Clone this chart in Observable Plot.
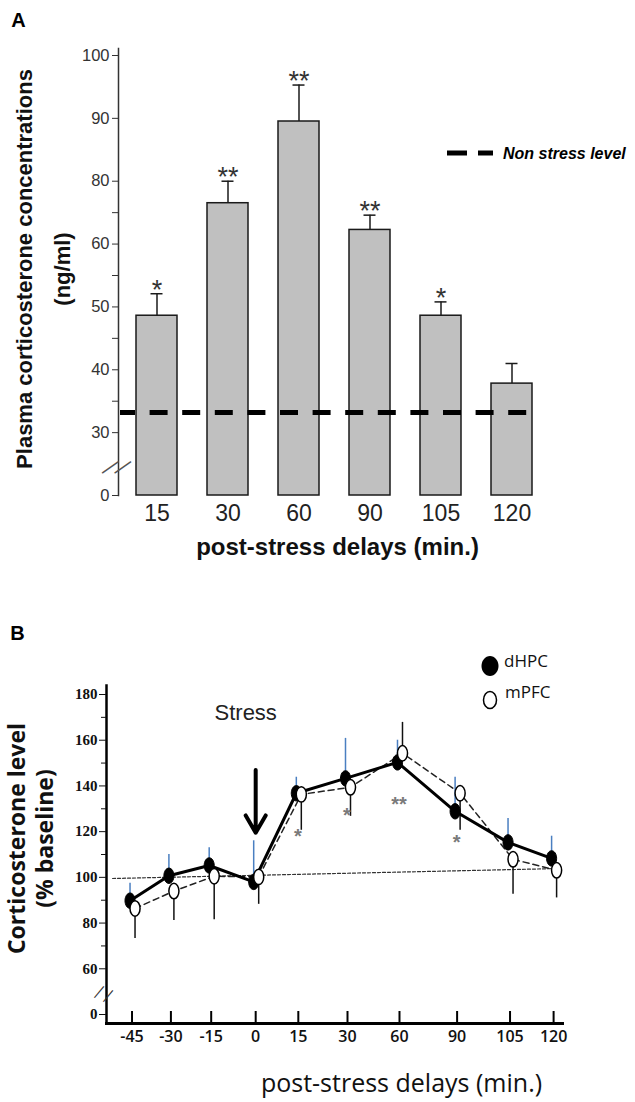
<!DOCTYPE html>
<html>
<head>
<meta charset="utf-8">
<script src="https://cdn.jsdelivr.net/npm/d3@7"></script>
<script src="https://cdn.jsdelivr.net/npm/@observablehq/plot@0.6"></script>
<style>
  body { margin: 0; background: #fff; }
  svg { display: block; }
</style>
</head>
<body>
<script>
// ---------- Panel A data ----------
const delaysA = ["15", "30", "60", "90", "105", "120"];
const plasmaMean = [48.6, 73.0, 89.5, 64.5, 48.6, 37.8];
const plasmaErrTop = [52.1, 80.0, 95.3, 69.2, 50.8, 41.0];
const plasmaSig = ["*", "**", "**", "**", "*", ""];
const nonStressLevel = 33.2;
const yTicksA = [0, 30, 40, 50, 60, 80, 90, 100];
const yMinorA = [35, 45, 55, 70];
const breakA = [14];

// ---------- Panel B data ----------
const delaysB = ["-45", "-30", "-15", "0", "15", "30", "60", "90", "105", "120"];
const dHPC = [89.8, 100.7, 105.2, 98.0, 136.8, 143.3, 150.3, 128.9, 115.3, 108.3];
const dHPCErrTop = [97.4, 110.0, 113.0, 116.0, 143.8, 160.8, 160.0, 143.8, 125.8, 118.0];
const mPFC = [86.4, 94.0, 100.5, 100.2, 136.3, 139.4, 154.3, 136.8, 107.9, 103.1];
const mPFCErrEnd = [73.3, 81.1, 81.4, 88.2, 120.6, 126.7, 167.8, 120.6, 92.6, 91.0];
const sigDelayB = ["15", "30", "60", "90"];
const sigLevelB = [117.4, 127.0, 131.8, 114.9];
const sigTextB = ["*", "*", "**", "*"];
const sigShiftB = [0, -1, -8, -7];
const baselineIdx = [-0.5, 9.2];
const baselineLevel = [99.5, 103.9];
const arrowDelay = "0";
const arrowLevels = [147, 119.5];
const stressLevel = 172;
const yTicksB = [0, 60, 80, 100, 120, 140, 160, 180];
const yMinorB = [70, 90, 110, 130, 150, 170];
const breakB = [30];

// broken axis: labelled ticks are evenly spaced, linear between them
const brokenAxis = (ticks) => {
  const s = d3.scaleLinear().domain(ticks).range(ticks.map((d, i) => i));
  return (v) => s(v);
};
const fA = brokenAxis(yTicksA);
const fB = brokenAxis(yTicksB);

// hand-drawn (uneven) spacing of the delay categories along panel B's x axis
const xSpacingB = d3.scaleLinear()
  .domain(delaysB.map((d, i) => i))
  .range([0, 0.83, 1.69, 2.64, 3.55, 4.6, 5.71, 6.94, 8.07, 9]);

// ---------- Panel A ----------
const dataA = delaysA.map((d, i) => ({delay: d, mean: plasmaMean[i], err: plasmaErrTop[i], sig: plasmaSig[i]}));
const sansA = "'Liberation Sans', Arial, sans-serif";

const plotA = Plot.plot({
  width: 635,
  height: 600,
  marginLeft: 118,
  marginRight: 85,
  marginTop: 48,
  marginBottom: 105,
  style: {fontFamily: sansA, background: "white", overflow: "visible"},
  x: {type: "band", domain: delaysA, paddingInner: 0.424, paddingOuter: 0.246, label: null},
  y: {type: "linear", transform: fA, domain: [0, yTicksA.length - 1], insetTop: 7, label: null},
  marks: [
    Plot.barY(dataA, {x: "delay", y: "mean", fill: "#c0c0c0", stroke: "#1a1a1a", strokeWidth: 1.5}),
    Plot.ruleX(dataA, {x: "delay", y1: "mean", y2: "err", stroke: "#1a1a1a", strokeWidth: 1.5}),
    Plot.tickY(dataA, {x: "delay", y: "err", stroke: "#1a1a1a", strokeWidth: 1.5, insetLeft: 14.5, insetRight: 14.5}),
    Plot.text(dataA, {x: "delay", y: "err", text: "sig", lineAnchor: "bottom", dy: 5, fontSize: 27, fill: "#333"}),
    Plot.ruleY([nonStressLevel], {stroke: "black", strokeWidth: 5, strokeDasharray: "18,14.6", strokeDashoffset: 3, insetLeft: 2, insetRight: 17}),
    Plot.frame({anchor: "left", stroke: "#333", strokeWidth: 1.5}),
    Plot.axisY({ticks: yTicksA.map(fA), tickFormat: p => yTicksA[Math.round(p)], tickSize: 6, tickPadding: 3, fontSize: 16.5, color: "#333", label: null}),
    Plot.axisY({ticks: yMinorA.map(fA), tickSize: 6, tickFormat: () => "", color: "#333", label: null}),
    Plot.axisX({tickSize: 0, tickPadding: 9, fontSize: 23, color: "#222", label: null}),
    Plot.text(breakA, {y: d => d, frameAnchor: "left", textAnchor: "middle", text: () => "\u2014", rotate: -35, dx: -9, fontSize: 20, fill: "#555"}),
    Plot.text(breakA, {y: d => d, frameAnchor: "left", textAnchor: "middle", text: () => "\u2014", rotate: -35, dx: 3.5, fontSize: 20, fill: "#555"}),
    Plot.text(["Plasma corticosterone concentrations"], {frameAnchor: "left", textAnchor: "middle", lineAnchor: "middle", text: d => d, rotate: -90, dx: -94, dy: -3, fontSize: 22, fontWeight: "bold", fill: "#111"}),
    Plot.text(["(ng/ml)"], {frameAnchor: "left", textAnchor: "middle", lineAnchor: "middle", text: d => d, rotate: -90, dx: -56, dy: -3, fontSize: 22, fontWeight: "bold", fill: "#111"}),
    Plot.text(["post-stress delays (min.)"], {frameAnchor: "bottom", textAnchor: "middle", lineAnchor: "middle", text: d => d, dy: 52, dx: 3, fontSize: 24, fontWeight: "bold", fill: "#111"}),
    Plot.text(["A"], {frameAnchor: "top-left", textAnchor: "middle", lineAnchor: "middle", text: d => d, dx: -100, dy: -28, fontSize: 20, fontWeight: "bold", fill: "#000"})
  ]
});

// legend A
{
  const g = d3.select(plotA).append("g");
  g.append("line").attr("x1", 447).attr("x2", 467).attr("y1", 153).attr("y2", 153).attr("stroke", "black").attr("stroke-width", 5);
  g.append("line").attr("x1", 478).attr("x2", 493).attr("y1", 153).attr("y2", 153).attr("stroke", "black").attr("stroke-width", 5);
  g.append("text").attr("x", 503).attr("y", 153).attr("dy", "0.35em").attr("text-anchor", "start")
    .attr("font-family", sansA).attr("font-size", 16).attr("font-weight", "bold").attr("font-style", "italic")
    .text("Non stress level");
}

// ---------- Panel B ----------
const dataB = delaysB.map((d, i) => ({i, delay: d, dh: dHPC[i], dhErr: dHPCErrTop[i], mp: mPFC[i], mpErr: mPFCErrEnd[i]}));
const sigB = sigDelayB.map((d, k) => ({i: delaysB.indexOf(d), v: sigLevelB[k], s: sigTextB[k], dx: sigShiftB[k]}));
const baselineB = baselineIdx.map((x, k) => ({i: x, v: baselineLevel[k]}));
const arrowB = [{i: delaysB.indexOf(arrowDelay), from: arrowLevels[0], to: arrowLevels[1]}];
const xIdx = delaysB.map((d, i) => i);

const ellipse = {
  draw(ctx, size) {
    const r = Math.sqrt(size / Math.PI);
    const rx = r * 0.72, ry = r * 1.1, k = 0.5523;
    ctx.moveTo(rx, 0);
    ctx.bezierCurveTo(rx, ry * k, rx * k, ry, 0, ry);
    ctx.bezierCurveTo(-rx * k, ry, -rx, ry * k, -rx, 0);
    ctx.bezierCurveTo(-rx, -ry * k, -rx * k, -ry, 0, -ry);
    ctx.bezierCurveTo(rx * k, -ry, rx, -ry * k, rx, 0);
    ctx.closePath();
  }
};

const sansB = "'Open Sans', Lato, sans-serif";
const serifB = "'Liberation Serif', 'DejaVu Serif', serif";

const plotB = Plot.plot({
  width: 635,
  height: 502,
  marginLeft: 106,
  marginRight: 73,
  marginTop: 85,
  marginBottom: 79,
  style: {fontFamily: sansB, background: "white", overflow: "visible"},
  x: {type: "linear", transform: i => xSpacingB(i), domain: [-0.545, 9.19], label: null},
  y: {type: "linear", transform: fB, domain: [0, yTicksB.length - 1], insetTop: 9, insetBottom: 9, label: null},
  marks: [
    Plot.line(baselineB, {x: "i", y: "v", stroke: "#333", strokeWidth: 1.2, strokeDasharray: "3,2"}),
    Plot.line(dataB, {x: "i", y: "mp", dx: 3, stroke: "#222", strokeWidth: 1.5, strokeDasharray: "6,4"}),
    Plot.ruleX(dataB, {x: "i", y1: "mp", y2: "mpErr", dx: 3, stroke: "#111", strokeWidth: 1.5}),
    Plot.ruleX(dataB, {x: "i", y1: "dh", y2: "dhErr", dx: -2, stroke: "#4a7fc1", strokeWidth: 1.5}),
    Plot.line(dataB, {x: "i", y: "dh", dx: -2, stroke: "black", strokeWidth: 3}),
    Plot.dot(dataB, {x: "i", y: "dh", dx: -2, symbol: ellipse, r: 7, fill: "black", stroke: "black", strokeWidth: 1}),
    Plot.dot(dataB, {x: "i", y: "mp", dx: 3, symbol: ellipse, r: 7, fill: "white", stroke: "black", strokeWidth: 1.5}),
    Plot.text(sigB, {x: "i", y: "v", text: "s", dx: "dx", dy: 5, fontSize: 20, fontWeight: "bold", fontFamily: sansA, fill: "#7a7a7a"}),
    Plot.arrow(arrowB, {x1: "i", x2: "i", y1: "from", y2: "to", stroke: "black", strokeWidth: 4, headLength: 7.5}),
    Plot.text([{i: delaysB.indexOf(arrowDelay), v: stressLevel}], {x: "i", y: "v", text: () => "Stress", dx: -10, fontSize: 22, fontFamily: sansA, fill: "#222"}),
    Plot.frame({anchor: "left", stroke: "black", strokeWidth: 2.5}),
    Plot.frame({anchor: "bottom", stroke: "black", strokeWidth: 3}),
    Plot.tickX(xIdx, {x: d => d, insetTop: 326, stroke: "black", strokeWidth: 2}),
    Plot.axisX({ticks: xIdx.map(i => xSpacingB(i)), tickFormat: p => delaysB[xIdx.find(i => Math.abs(xSpacingB(i) - p) < 1e-6)], tickSize: 0, tickPadding: 7, fontSize: 16, fontWeight: 600, fill: "#111", label: null}),
    Plot.axisY({ticks: yTicksB.map(fB), tickFormat: p => yTicksB[Math.round(p)], tickSize: 7, tickPadding: 2, fontSize: 15, fontWeight: "bold", fontFamily: serifB, color: "#111", label: null}),
    Plot.axisY({ticks: yMinorB.map(fB), tickSize: 5, tickFormat: () => "", color: "#111", label: null}),
    Plot.text(breakB, {y: d => d, frameAnchor: "left", textAnchor: "middle", text: () => "\u2014", rotate: -50, dx: -8, fontSize: 16, fill: "#333"}),
    Plot.text(breakB, {y: d => d, frameAnchor: "left", textAnchor: "middle", text: () => "\u2014", rotate: -50, dx: 1, dy: 4, fontSize: 16, fill: "#333"}),
    Plot.text(["Corticosterone level"], {frameAnchor: "left", textAnchor: "middle", lineAnchor: "middle", text: d => d, rotate: -90, dx: -89, dy: -16, fontSize: 23, fontWeight: "bold", fill: "#111"}),
    Plot.text(["(% baseline)"], {frameAnchor: "left", textAnchor: "middle", lineAnchor: "middle", text: d => d, rotate: -90, dx: -61, dy: -16, fontSize: 23, fontWeight: "bold", fill: "#111"}),
    Plot.text(["post-stress delays (min.)"], {frameAnchor: "bottom", textAnchor: "middle", lineAnchor: "middle", text: d => d, dx: 67, dy: 60, fontSize: 25, fill: "#111"}),
    Plot.text(["B"], {frameAnchor: "top-left", textAnchor: "middle", lineAnchor: "middle", text: d => d, dx: -89, dy: -52, fontSize: 20, fontWeight: "bold", fontFamily: sansA, fill: "#000"})
  ]
});

// legend B
{
  const g = d3.select(plotB).append("g").attr("font-family", sansB);
  const path = (rx, ry, cx, cy) => {
    const k = 0.5523, p = d3.path();
    p.moveTo(cx + rx, cy);
    p.bezierCurveTo(cx + rx, cy + ry * k, cx + rx * k, cy + ry, cx, cy + ry);
    p.bezierCurveTo(cx - rx * k, cy + ry, cx - rx, cy + ry * k, cx - rx, cy);
    p.bezierCurveTo(cx - rx, cy - ry * k, cx - rx * k, cy - ry, cx, cy - ry);
    p.bezierCurveTo(cx + rx * k, cy - ry, cx + rx, cy - ry * k, cx + rx, cy);
    p.closePath();
    return p.toString();
  };
  g.append("path").attr("d", path(8.5, 10, 490, 66)).attr("fill", "black");
  g.append("path").attr("d", path(6.5, 8.5, 490, 100)).attr("fill", "white").attr("stroke", "black").attr("stroke-width", 1.5);
  g.append("text").attr("x", 504).attr("y", 61).attr("dy", "0.35em").attr("text-anchor", "start").attr("font-size", 17).attr("fill", "#111").text("dHPC");
  g.append("text").attr("x", 505).attr("y", 92).attr("dy", "0.35em").attr("text-anchor", "start").attr("font-size", 17).attr("fill", "#111").text("mPFC");
}

document.body.append(plotA, plotB);
</script>
</body>
</html>
